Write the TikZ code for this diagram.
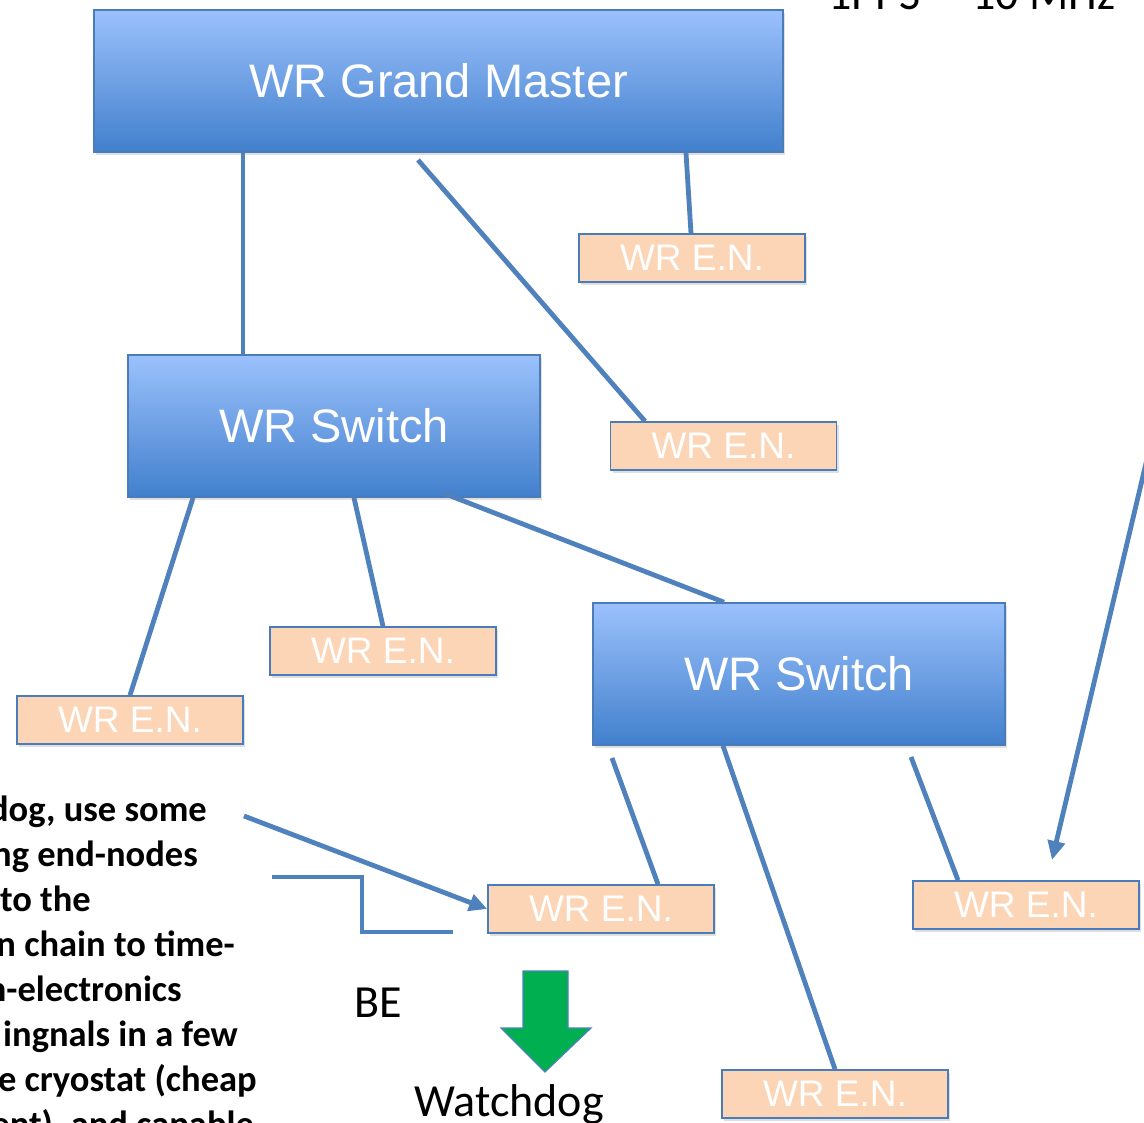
\documentclass[tikz,border=0pt]{standalone}
\usepackage{fontspec}
\setmainfont{Liberation Sans}
\newfontfamily\calib{Carlito}
\usetikzlibrary{shadows,arrows.meta,calc}
\definecolor{linkblue}{RGB}{79,129,189}
\definecolor{boxborder}{RGB}{74,124,186}
\definecolor{gmtop}{RGB}{155,193,252}
\definecolor{gmmid}{RGB}{126,169,234}
\definecolor{gmbot}{RGB}{66,128,205}
\definecolor{enfill}{RGB}{251,213,181}
\definecolor{arrowgreen}{RGB}{0,176,80}
\begin{document}
\begin{tikzpicture}[x=1pt,y=-1pt,
  bigbox/.style={draw=boxborder, line width=1.6pt, top color=gmtop, middle color=gmmid, bottom color=gmbot,
    drop shadow={shadow xshift=2pt,shadow yshift=-3pt,opacity=0.25},
    text=white, inner sep=0pt, font=\fontsize{47}{50}\selectfont},
  enbox/.style={draw=boxborder, line width=1.6pt, fill=enfill, minimum width=226pt, minimum height=48pt,
    drop shadow={shadow xshift=2pt,shadow yshift=-3pt,opacity=0.25},
    text=white, inner sep=0pt, font=\fontsize{37}{40}\selectfont},
  link/.style={draw=linkblue, line width=4.8pt},
  calibtext/.style={inner sep=0pt, font=\calib\fontsize{46}{50}\selectfont, text=black},
  boldtext/.style={inner sep=0pt, anchor=base east, font=\calib\bfseries\fontsize{36.5}{40}\selectfont, text=black},
]
\useasboundingbox (0,0) rectangle (1144,1123);
\clip (0,0) rectangle (1144,1123);
\fill[white] (0,0) rectangle (1144,1123);

% main boxes
\node[bigbox, minimum width=689pt, minimum height=142pt] (gm) at (438.5,81) {WR Grand Master};
\node[bigbox, minimum width=412pt, minimum height=142pt] (sw1) at (334,426) {WR Switch};
\node[bigbox, minimum width=412pt, minimum height=142pt] (sw2) at (799,674) {WR Switch};

% end nodes
\node[enbox] (en1) at (692,258) {WR E.N.};
\node[enbox] (en2) at (723.5,446) {WR E.N.};
\node[enbox] (en3) at (383,651) {WR E.N.};
\node[enbox] (en4) at (130,720) {WR E.N.};
\node[enbox] (en5) at (601,909) {WR E.N.};
\node[enbox] (en6) at (1026,905) {WR E.N.};
\node[enbox] (en7) at (835,1094) {WR E.N.};

% free ends
\coordinate (g2) at (418,160);
\coordinate (s1c) at (443,493);
\coordinate (s2a) at (612,758);
\coordinate (s2c) at (911,757);
\coordinate (ext) at (1161,400);
\coordinate (tip6) at (1052,860);
\coordinate (txt) at (244,816);

% connectors
\draw[link] (gm.south -| 243,0) -- (sw1.north -| 243,0);
\draw[link] (g2) -- (en2.north -| 645,0);
\draw[link] (gm.south -| 686,0) -- (en1.north -| 691,0);
\draw[link] (sw1.south -| 193,0) -- (en4.north -| 130,0);
\draw[link] (sw1.south -| 354,0) -- (en3.north -| 383,0);
\draw[link] (s1c) -- (sw2.north -| 724,0);
\draw[link] (s2a) -- (en5.north -| 658,0);
\draw[link] (sw2.south -| 723,0) -- (en7.north -| 835,0);
\draw[link] (s2c) -- (en6.north -| 958,0);
\draw[link, -{Triangle[length=19pt,width=17pt]}] (ext) -- (tip6);
\draw[link, -{Triangle[length=18pt,width=17pt]}] (txt) -- (en5.west);

% step waveform
\draw[link, line join=miter] (272,877) -- (362,877) -- (362,932) -- (453,932);

% green block arrow
\draw[draw=linkblue, line width=1.2pt, fill=arrowgreen]
  (523,971) -- (568,971) -- (568,1028) -- (591,1028) -- (545,1072) -- (501,1028) -- (523,1028) -- cycle;

% texts
\node[calibtext, anchor=base west] (pps) at (828,10) {1PPS};
\node[calibtext, anchor=base west] (mhz) at (972,10) {10 MHz};
\node[calibtext, anchor=base west] (be) at (354,1017) {BE};
\node[calibtext, anchor=base west] (wd) at (414,1116) {Watchdog};

\node[boldtext] (l1) at (207,821) {dog, use some};
\node[boldtext] (l2) at (198,866) {ng end-nodes};
\node[boldtext] (l3) at (91,911) {to the};
\node[boldtext] (l4) at (235,956) {n chain to time-};
\node[boldtext] (l5) at (182,1001) {n-electronics};
\node[boldtext] (l6) at (238,1046) {ingnals in a few};
\node[boldtext] (l7) at (257,1091) {e cryostat (cheap};
\node[boldtext] (l8) at (254,1136) {ent), and capable};
\end{tikzpicture}
\end{document}
